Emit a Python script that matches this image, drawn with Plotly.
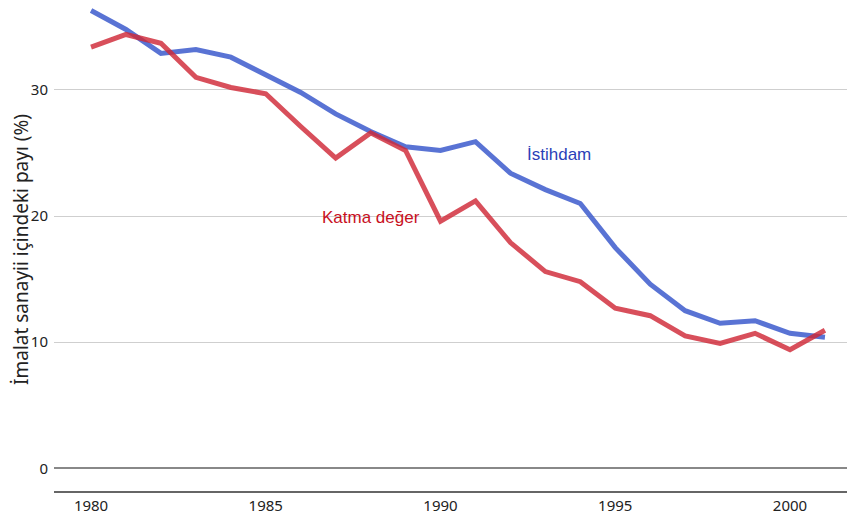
import plotly.graph_objects as go

years = list(range(1980, 2002))
istihdam = [36.3, 34.8, 32.9, 33.2, 32.6, 31.2, 29.8, 28.1, 26.7, 25.5, 25.2,
            25.9, 23.4, 22.1, 21.0, 17.5, 14.6, 12.5, 11.5, 11.7, 10.7, 10.4]
katma_deger = [33.4, 34.4, 33.7, 31.0, 30.2, 29.7, 27.1, 24.6, 26.6, 25.2, 19.6,
               21.2, 17.9, 15.6, 14.8, 12.7, 12.1, 10.5, 9.9, 10.7, 9.4, 10.95]

fig = go.Figure()
fig.add_trace(go.Scatter(x=years, y=istihdam, mode="lines", name="İstihdam",
                         cliponaxis=False,
                         line=dict(color="rgba(60,90,205,0.85)", width=5)))
fig.add_trace(go.Scatter(x=years, y=katma_deger, mode="lines", name="Katma değer",
                         cliponaxis=False,
                         line=dict(color="rgba(208,40,55,0.82)", width=5)))

fig.add_annotation(x=1993.4, y=24.9, text="İstihdam", showarrow=False,
                   font=dict(family="Liberation Sans", size=17, color="#2b3fb8"))
fig.add_annotation(x=1988.0, y=19.9, text="Katma değer", showarrow=False,
                   font=dict(family="Liberation Sans", size=17, color="#c8101e"))

# page body has an 8px margin, so the figure is sized a bit smaller
fig.update_layout(
    width=847, height=509,
    margin=dict(l=46, r=0, t=0, b=26),
    paper_bgcolor="white", plot_bgcolor="white",
    showlegend=False,
    font=dict(family="Noto Sans", size=15, color="#222"),
)
fig.update_xaxes(range=[1978.94, 2001.86], tickvals=[1980, 1985, 1990, 1995, 2000],
                 showgrid=False, zeroline=False, showline=True, automargin=False,
                 linecolor="#666", linewidth=2, ticks="", ticklen=0)
fig.update_yaxes(range=[-1.8, 36.5], tickvals=[0, 10, 20, 30], automargin=False,
                 ticklabelstandoff=5,
                 gridcolor="#cfcfcf", gridwidth=1,
                 zeroline=True, zerolinecolor="#888", zerolinewidth=1.5,
                 title=dict(text="İmalat sanayii içindeki payı (%)",
                            font=dict(size=19, family="Noto Sans"), standoff=6))

fig.write_html("out.html")
